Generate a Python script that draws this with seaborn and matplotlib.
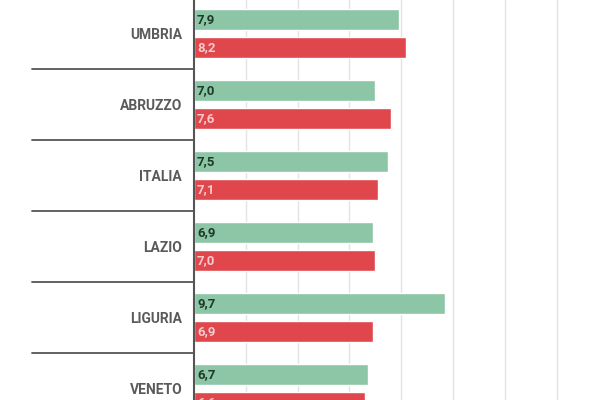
import matplotlib
matplotlib.use("Agg")
import matplotlib.pyplot as plt
import seaborn as sns
import pandas as pd

# --- data ---
regioni = ["UMBRIA", "ABRUZZO", "ITALIA", "LAZIO", "LIGURIA", "VENETO"]
serie_verde = [7.9, 7.0, 7.5, 6.9, 9.7, 6.7]
serie_rossa = [8.2, 7.6, 7.1, 7.0, 6.9, 6.6]
serie_nomi = ["verde", "rossa"]

df = pd.DataFrame({
    "regione": regioni * 2,
    "valore": serie_verde + serie_rossa,
    "serie": [serie_nomi[0]] * len(regioni) + [serie_nomi[1]] * len(regioni),
})

GREEN = "#8cc6a6"
RED = "#e0474c"

sns.set_style("white")
plt.rcParams["font.family"] = ["Roboto", "DejaVu Sans"]

fig = plt.figure(figsize=(6, 4), dpi=100)
ax = fig.add_axes([194 / 600, 0, 406 / 600, 1])

sns.barplot(data=df, x="valore", y="regione", hue="serie", orient="h",
            palette=[GREEN, RED], saturation=1, width=0.78, gap=0.24,
            errorbar=None, legend=False, ax=ax)

ax.set_xlim(0, 406 / 25.9)
ax.set_ylim(5.162, -0.472)
ax.set_xlabel("")
ax.set_ylabel("")

# grid
ax.set_xticks(range(2, 16, 2))
ax.xaxis.grid(True, color="#e3e3e3", linewidth=1)
ax.set_axisbelow(True)
ax.tick_params(axis="x", bottom=False, labelbottom=False)
ax.tick_params(axis="y", left=False, pad=5)
for lab in ax.get_yticklabels():
    lab.set_color("#5a5a5a")
    lab.set_fontsize(10)
    lab.set_fontweight("bold")

for s in ["top", "right", "bottom"]:
    ax.spines[s].set_visible(False)
ax.spines["left"].set_color("#555555")
ax.spines["left"].set_linewidth(1.5)

# separators between regions
trans = ax.get_yaxis_transform()
for i in range(len(regioni) + 1):
    ax.plot([-162 / 406, 0], [i - 0.5, i - 0.5], transform=trans,
            color="#555555", linewidth=1.3, clip_on=False)

# value labels inside bars
text_colors = ["#1d3a2a", "#f7cacc"]
for k, cont in enumerate(ax.containers):
    for p in cont:
        v = p.get_width()
        ax.text(0.12, p.get_y() + p.get_height() / 2, f"{v:.1f}".replace(".", ","),
                ha="left", va="center", fontsize=9.5, fontweight="bold",
                color=text_colors[k])

fig.savefig("out.png", dpi=100)
